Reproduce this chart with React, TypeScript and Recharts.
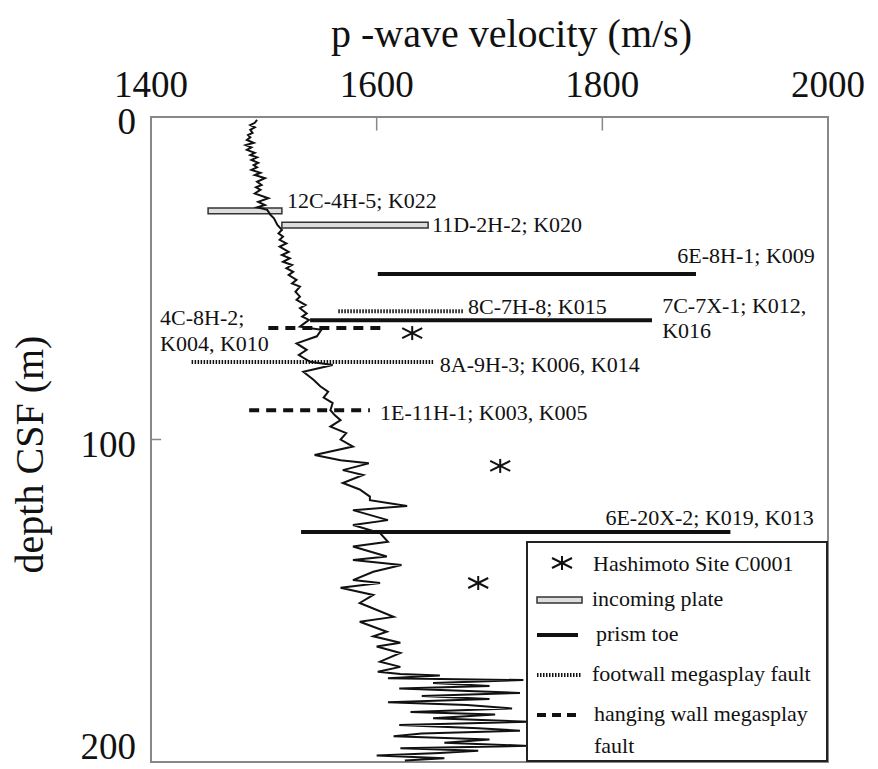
import React from 'react'
import { ScatterChart, Scatter, XAxis, YAxis, ReferenceLine, ReferenceArea, ReferenceDot, Legend, Label } from 'recharts'

const serif = '"Liberation Serif", "DejaVu Serif", serif'

// p-wave velocity log
const depth = [
  0.9, 1.8, 2.5, 3.2, 4, 4.9, 5.6, 6.3, 7.1, 8, 8.7, 9.4, 10.2, 11.1, 11.8, 12.5, 13.3, 14.2, 14.9, 15.6,
  16.4, 17.3, 18, 19, 20.1, 21.1, 21.8, 22.6, 23.7, 25.2, 26.3, 27.3, 28, 28.8, 30.4, 31.4, 33.5, 35, 36.1, 37.1,
  38.1, 39.2, 40.2, 41.8, 42.8, 43.8, 44.9, 45.9, 46.9, 48, 49, 50.5, 51.6, 52.6, 54.2, 55.7, 56.7, 58.3, 59.3, 60.9,
  61.9, 62.9, 65, 66, 68, 70.2, 72.2, 73.8, 75.9, 76.9, 79, 81.5, 83.5, 85.2, 87, 88.7, 90.9, 92.5, 94, 96,
  98, 100, 102.2, 104.8, 106.4, 107.4, 109.5, 111, 113.5, 115.5, 117.7, 118.8, 120.6, 121.9, 125, 126.5, 129, 131.7, 133.2, 136.3,
  137.4, 138.9, 141, 143.6, 144.5, 146, 148.2, 150.7, 155, 156.5, 159.6, 161, 163, 164.2, 166.2, 168.9, 170.5, 172, 172.7, 173.2,
  174, 174.6, 175.5, 176.4, 177.2, 178.6, 179.5, 180.5, 181.5, 182.3, 183.4, 184.5, 185.3, 186.4, 187.5, 188.5, 189.5, 190.3, 191.2, 192,
  193, 194, 195, 195.7, 196.5, 197.2, 198, 198.8, 199.5,
]
const velocity = [
  1494, 1492, 1488, 1492, 1488, 1490, 1486, 1488, 1485, 1491, 1484, 1489, 1485, 1492, 1488, 1494, 1489, 1495, 1491, 1494,
  1489, 1497, 1492, 1501, 1494, 1498, 1493, 1497, 1492, 1504, 1495, 1501, 1494, 1503, 1506, 1509, 1512, 1516, 1513, 1517,
  1514, 1520, 1514, 1522, 1516, 1523, 1517, 1525, 1520, 1526, 1522, 1529, 1525, 1532, 1528, 1532, 1529, 1537, 1532, 1538,
  1534, 1540, 1532, 1551, 1547, 1529, 1538, 1531, 1541, 1561, 1535, 1544, 1550, 1557, 1553, 1561, 1559, 1563, 1568, 1559,
  1573, 1568, 1579, 1545, 1568, 1593, 1570, 1588, 1570, 1585, 1594, 1594, 1627, 1579, 1610, 1579, 1603, 1610, 1579, 1609,
  1579, 1622, 1597, 1579, 1603, 1568, 1597, 1585, 1615, 1585, 1609, 1597, 1621, 1600, 1621, 1603, 1621, 1601, 1621, 1656,
  1610, 1730, 1650, 1700, 1620, 1727, 1640, 1700, 1610, 1680, 1720, 1630, 1705, 1650, 1735, 1620, 1690, 1727, 1640, 1615,
  1700, 1660, 1735, 1621, 1690, 1656, 1600, 1660, 1625,
]

const xTicks = [1400, 1600, 1800, 2000]
const yTicks = [0, 100, 200]

// incoming plate (boxes)
const plateDepth = [29.1, 33.5]
const plateFrom = [1450.6, 1516]
const plateTo = [1516, 1645.6]

// prism toe (solid)
const toeDepth = [48.7, 63, 128.7]
const toeFrom = [1601, 1541, 1533]
const toeTo = [1883, 1844, 1913.5]

// footwall megasplay fault (dotted)
const footDepth = [60.2, 76]
const footFrom = [1566, 1436]
const footTo = [1677, 1651]

// hanging wall megasplay fault (dashed)
const hangDepth = [65.4, 90.9]
const hangFrom = [1504, 1487]
const hangTo = [1605, 1594]

// Hashimoto Site C0001
const starV = [1631.5, 1709.5, 1690]
const starD = [67, 108.2, 144.5]

const labelText = [
  '12C-4H-5; K022', '11D-2H-2; K020', '6E-8H-1; K009', '8C-7H-8; K015', '7C-7X-1; K012,', 'K016',
  '4C-8H-2;', 'K004, K010', '8A-9H-3; K006, K014', '1E-11H-1; K003, K005', '6E-20X-2; K019, K013',
]
const labelV = [1520.6, 1649, 1866.5, 1681, 1853, 1853, 1408, 1408, 1656, 1603, 1802.7]
const labelD = [25.7, 33.2, 42.8, 58.6, 58.3, 66, 62, 70.1, 76.6, 91.5, 124]

const logData = depth.map((d, i) => ({ v: velocity[i], d }))
const starData = starV.map((v, i) => ({ v, d: starD[i] }))

const Star = (p: any) => {
  const { cx, cy } = p
  return (
    <g stroke="#111" strokeWidth={2}>
      <line x1={cx} y1={cy - 7} x2={cx} y2={cy + 7} />
      <line x1={cx - 10} y1={cy - 5} x2={cx + 10} y2={cy + 5} />
      <line x1={cx - 10} y1={cy + 5} x2={cx + 10} y2={cy - 5} />
    </g>
  )
}

const XTick = (p: any) => (
  <text x={p.x} y={p.y - 20} textAnchor="middle" fontFamily={serif} fontSize={37} fill="#111">
    {p.payload.value}
  </text>
)

const YTick = (p: any) => (
  <text x={p.x - 15} y={Math.min(p.y + 17, 759)} textAnchor="end" fontFamily={serif} fontSize={37} fill="#111">
    {p.payload.value}
  </text>
)

const Title = (p: any) => {
  const vb = p.viewBox
  return (
    <text x={vb.x + vb.width / 2 + 22} y={vb.y - 10} textAnchor="middle" fontFamily={serif} fontSize={40} fill="#111">
      p -wave velocity (m/s)
    </text>
  )
}

const DepthLabel = (p: any) => {
  const vb = p.viewBox
  const x = vb.x - 8
  const y = vb.y + vb.height / 2 + 15
  return (
    <text x={x} y={y} transform={`rotate(-90 ${x} ${y})`} textAnchor="middle" fontFamily={serif} fontSize={40} fill="#111">
      depth CSF (m)
    </text>
  )
}

const LegendBox = () => (
  <svg width={302} height={221} style={{ display: 'block' }}>
    <rect x={1} y={1} width={300} height={219} fill="#fff" stroke="#222" strokeWidth={2} />
    <g fontFamily={serif} fontSize={22} fill="#111">
      <Star cx={36} cy={22} />
      <text x={67} y={30}>Hashimoto Site C0001</text>
      <rect x={11} y={56} width={45} height={6} fill="#ddd" stroke="#333" strokeWidth={1.5} />
      <text x={66} y={65}>incoming plate</text>
      <line x1={11} x2={52} y1={94} y2={94} stroke="#111" strokeWidth={4} />
      <text x={70} y={100}>prism toe</text>
      <line x1={11} x2={56} y1={134} y2={134} stroke="#111" strokeWidth={4} strokeDasharray="1.5 1.5" />
      <text x={66} y={140}>footwall megasplay fault</text>
      <line x1={11} x2={52} y1={174} y2={174} stroke="#111" strokeWidth={4} strokeDasharray="9 6" />
      <text x={68} y={180}>hanging wall megasplay</text>
      <text x={68} y={212}>fault</text>
    </g>
  </svg>
)

export default function App() {
  return (
    <div style={{ position: 'absolute', left: 0, top: 0, width: 878, height: 769, background: '#fff' }}>
      <ScatterChart width={878} height={769} margin={{ top: 57, right: 50, bottom: 7, left: 51 }}>
        <XAxis
          type="number"
          dataKey="v"
          orientation="top"
          domain={[1400, 2000]}
          ticks={xTicks}
          height={60}
          axisLine={false}
          tickLine={false}
          tickSize={0}
          tickMargin={0}
          tick={XTick}
          interval={0}
          allowDataOverflow
        >
          <Label content={Title} />
        </XAxis>
        <YAxis
          type="number"
          dataKey="d"
          reversed
          domain={[0, 200]}
          ticks={yTicks}
          width={100}
          axisLine={false}
          tickLine={false}
          tickSize={0}
          tickMargin={0}
          tick={YTick}
          interval={0}
          allowDataOverflow
        >
          <Label content={DepthLabel} />
        </YAxis>

        <ReferenceArea x1={1400} x2={2000} y1={0} y2={200} fill="none" stroke="#888" strokeWidth={2} ifOverflow="visible" />
        {[1600, 1800].map((t) => (
          <ReferenceLine key={t} segment={[{ x: t, y: 0 }, { x: t, y: 4.2 }]} stroke="#888" strokeWidth={1.5} />
        ))}
        <ReferenceLine segment={[{ x: 1400, y: 100 }, { x: 1409, y: 100 }]} stroke="#888" strokeWidth={1.5} />

        <Scatter
          data={logData}
          line={{ stroke: '#111', strokeWidth: 2 }}
          lineType="joint"
          shape={() => <g />}
          isAnimationActive={false}
          legendType="none"
        />

        {plateDepth.map((d, i) => (
          <ReferenceArea
            key={'p' + i}
            x1={plateFrom[i]}
            x2={plateTo[i]}
            y1={d - 0.9}
            y2={d + 0.9}
            fill="#ddd"
            fillOpacity={1}
            stroke="#333"
            strokeWidth={1.5}
          />
        ))}
        {toeDepth.map((d, i) => (
          <ReferenceLine key={'t' + i} segment={[{ x: toeFrom[i], y: d }, { x: toeTo[i], y: d }]} stroke="#111" strokeWidth={4} />
        ))}
        {footDepth.map((d, i) => (
          <ReferenceLine
            key={'f' + i}
            segment={[{ x: footFrom[i], y: d }, { x: footTo[i], y: d }]}
            stroke="#111"
            strokeWidth={4}
            strokeDasharray="1.5 1.5"
          />
        ))}
        {hangDepth.map((d, i) => (
          <ReferenceLine
            key={'h' + i}
            segment={[{ x: hangFrom[i], y: d }, { x: hangTo[i], y: d }]}
            stroke="#111"
            strokeWidth={4}
            strokeDasharray="10 7"
          />
        ))}

        <Scatter data={starData} shape={Star} isAnimationActive={false} legendType="none" />

        {labelText.map((t, i) => (
          <ReferenceDot
            key={'l' + i}
            x={labelV[i]}
            y={labelD[i]}
            r={0}
            shape={(p: any) => (
              <text x={p.cx} y={p.cy} dy="0.35em" fontFamily={serif} fontSize={22} fill="#111">
                {t}
              </text>
            )}
          />
        ))}

        <Legend
          layout="horizontal"
          verticalAlign="middle"
          align="center"
          content={LegendBox}
          wrapperStyle={{ position: 'absolute', left: 526, top: 541, width: 302, height: 221 }}
        />
      </ScatterChart>
    </div>
  )
}
